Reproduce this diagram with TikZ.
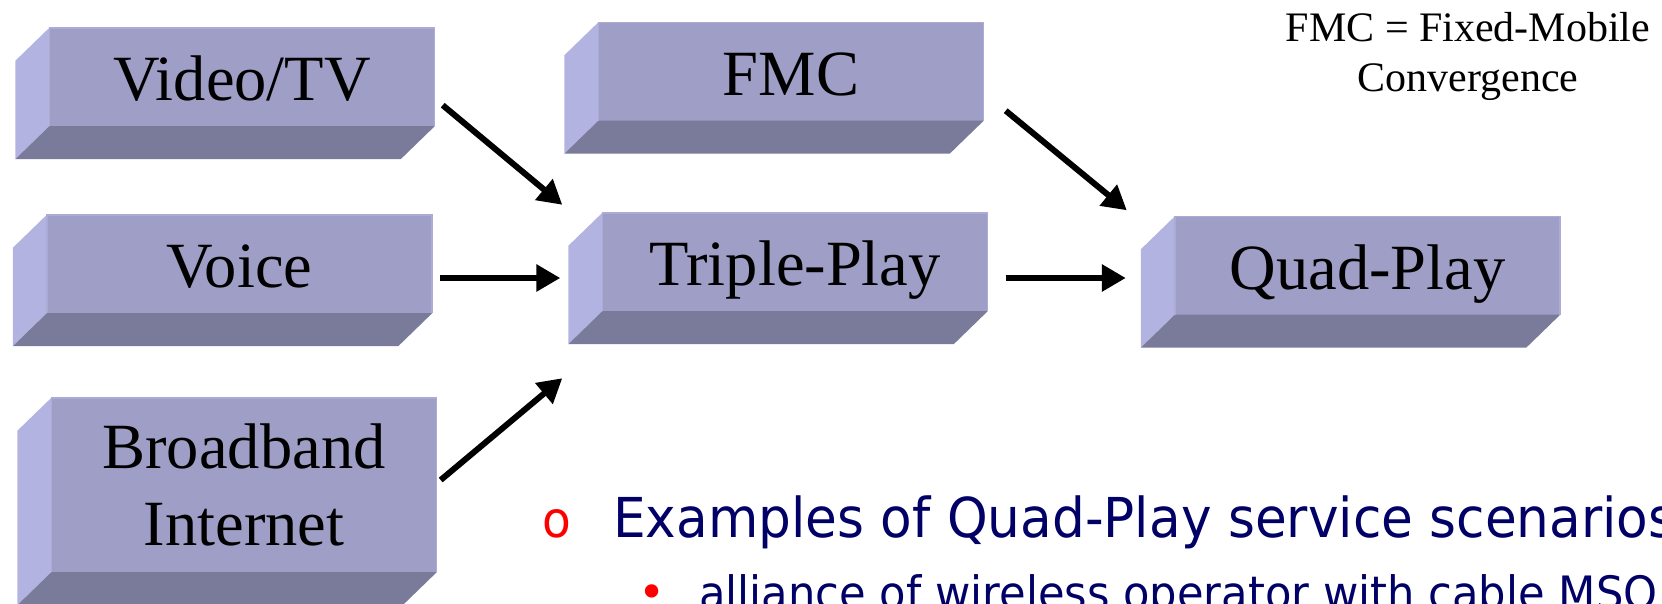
\documentclass[tikz,border=0pt]{standalone}
\usepackage{fontspec}
\setmainfont{Liberation Serif}
\newfontfamily\slidesans[FakeStretch=0.94]{DejaVu Sans}
\newfontfamily\bulletfont{DejaVu Sans}
\usetikzlibrary{calc,arrows.meta}

\definecolor{slabfront}{HTML}{9F9EC6}
\definecolor{slabside}{HTML}{B3B3E2}
\definecolor{slabbottom}{HTML}{7A7A9A}
\definecolor{slabedge}{HTML}{ABABD6}
\definecolor{navytext}{HTML}{000066}
\definecolor{bulletred}{HTML}{FF0000}

\tikzset{
  slab/.style={rectangle, fill=slabfront, minimum width=385pt, minimum height=98pt,
    inner sep=0pt, font=\fontsize{64.5}{64.5}\selectfont},
  oneline/.style={text height=47.7pt, text depth=0pt},
  flow/.style={line width=6pt, -{Triangle[length=24pt,width=26pt]}},
  slidetext/.style={anchor=base west, inner sep=0pt, text=navytext},
}

% side and bottom faces of an extruded slab, drawn round a named front face
\newcommand\slabfaces[1]{%
  \fill[slabside] (#1.north west) -- ++(-34,33) -- ($(#1.south west)+(-34,33)$) -- (#1.south west) -- cycle;
  \fill[slabbottom] (#1.south west) -- (#1.south east) -- ++(-34,33) -- ($(#1.south west)+(-34,33)$) -- cycle;
  \draw[slabedge, line width=1.5pt] (#1.south west) -- (#1.north west) -- (#1.north east) -- (#1.south east);
}

\begin{document}
\begin{tikzpicture}[x=1pt, y=-1pt]
\useasboundingbox (0,0) rectangle (1662,603);
\clip (0,0) rectangle (1662,603);

% front faces
\node[slab, oneline] (video)  at (242,77)      {Video/TV};
\node[slab, oneline] (voice)  at (239.5,264)   {Voice};
\node[slab, minimum height=174pt, align=center, font=\fontsize{64.5}{77}\selectfont]
      (broad) at (244,485) {Broadband\\Internet};
\node[slab, oneline] (fmc)    at (791,71.5)    {FMC};
\node[slab, oneline] (triple) at (795,262)     {Triple-Play};
\node[slab, oneline] (quad)   at (1367.5,265.5){Quad-Play};

\foreach \n in {video,voice,broad,fmc,triple,quad} {\slabfaces{\n}}

% connectors
\draw[flow] ($(video.south east)+(8,-21)$) -- ($(triple.north west)+(-40,-8)$);
\draw[flow] ($(voice.east)+(8,14)$) -- ($(triple.west)+(-42,16)$);
\draw[flow] ($(broad.east)+(4,-5)$) -- ($(triple.south west)+(-40,67)$);
\draw[flow] ($(triple.east)+(18,16)$) -- ($(quad.west)+(-49,12.5)$);
\draw[flow] ($(fmc.south east)+(22,-10)$) -- ($(quad.north west)+(-48,-6)$);

% abbreviation note
\node[anchor=north, align=center, inner sep=0pt, font=\fontsize{42}{50}\selectfont]
      (note) at (1468,12) {FMC = Fixed-Mobile\\Convergence};

% bullet list
\node[anchor=base west, inner sep=0pt, text=bulletred, font=\slidesans\fontsize{50}{50}\selectfont]
      (mark1) at (542,537) {o};
\node[slidetext, font=\slidesans\fontsize{55}{55}\selectfont]
      (examples) at (613,537) {Examples of Quad-Play service scenarios};
\node[anchor=base, inner sep=0pt, text=bulletred, font=\bulletfont\fontsize{46}{46}\selectfont]
      (mark2) at (652,608) {•};
\node[slidetext, font=\slidesans\fontsize{46}{46}\selectfont]
      (alliance) at (699,609) {alliance of wireless operator with cable MSO};
\end{tikzpicture}
\end{document}
